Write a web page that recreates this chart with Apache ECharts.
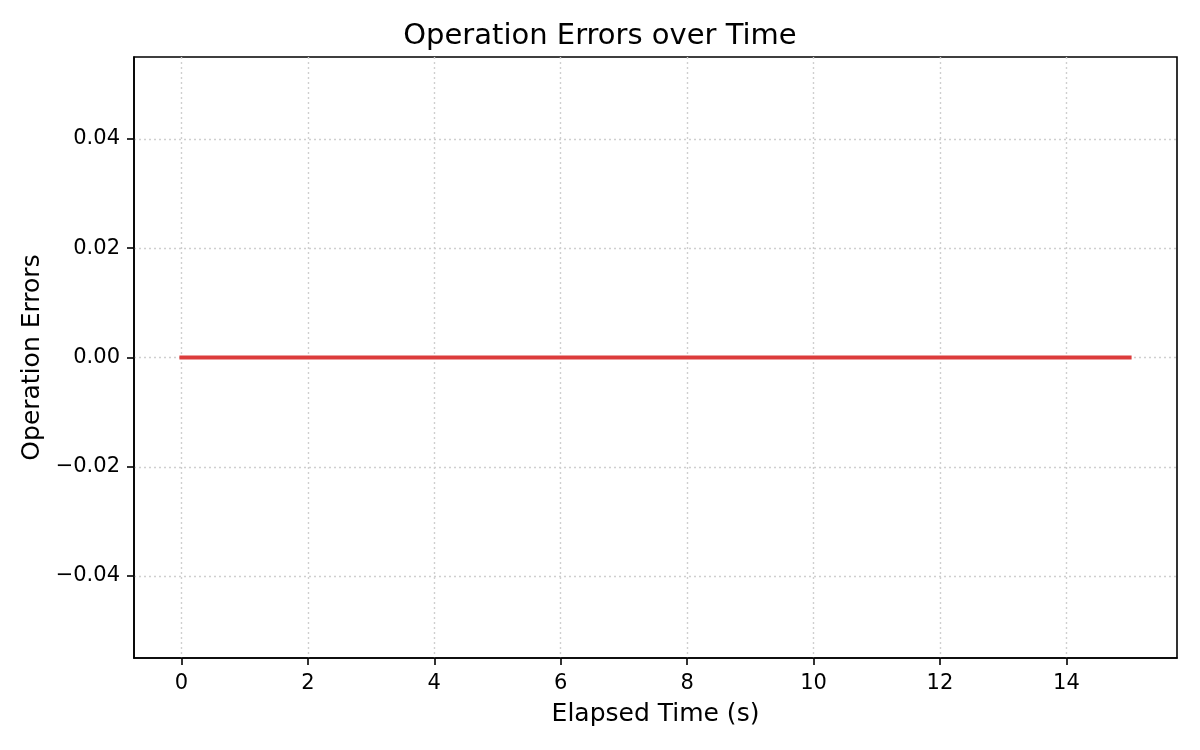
<!DOCTYPE html>
<html>
<head>
<meta charset="utf-8">
<title>Operation Errors over Time</title>
<script src="https://cdn.jsdelivr.net/npm/echarts@6/dist/echarts.min.js"></script>
<style>
  html, body { margin: 0; padding: 0; background: #fff; }
  #main { width: 1200px; height: 750px; }
</style>
</head>
<body>
<div id="main"></div>
<script>
// data
var elapsedTime = [0, 1, 2, 3, 4, 5, 6, 7, 8, 9, 10, 11, 12, 13, 14, 15];
var opErrors    = [0, 0, 0, 0, 0, 0, 0, 0, 0, 0, 0, 0, 0, 0, 0, 0];
var xTicks = [0, 2, 4, 6, 8, 10, 12, 14];
var yTicks = [-0.04, -0.02, 0, 0.02, 0.04];

var FONT = 'DejaVu Sans';

function fmtY(v) {
	var s = Math.abs(v).toFixed(2);
	return (v < -1e-9 ? '\u2212' : '') + s;
}

var mainChart = echarts.init(document.getElementById('main'));

var points = [];
for (var i = 0; i < elapsedTime.length; i++) {
	points.push([elapsedTime[i], opErrors[i]]);
}

var gridLine = { show: true, lineStyle: { color: '#cfcfcf', type: [2, 3], width: 1.4 } };

var chartOpt = {
	animation: false,
	backgroundColor: '#ffffff',
	title: {
		text: 'Operation Errors over Time',
		left: 'center',
		top: 17,
		textStyle: { fontFamily: FONT, fontSize: 29, fontWeight: 'normal', color: '#000' }
	},
	grid: { left: 134, right: 23, top: 57, bottom: 92, show: true, borderColor: '#000', borderWidth: 1.6, containLabel: false },
	xAxis: {
		type: 'value',
		min: -0.75,
		max: 15.75,
		name: 'Elapsed Time (s)',
		nameLocation: 'middle',
		nameGap: 44,
		nameTextStyle: { fontFamily: FONT, fontSize: 25, color: '#000' },
		axisLine: { show: true, onZero: false, lineStyle: { color: '#000', width: 1.6 } },
		axisTick: { show: true, length: 7, customValues: xTicks, lineStyle: { color: '#000', width: 1.6 } },
		axisLabel: { customValues: xTicks, fontFamily: FONT, fontSize: 21, color: '#000', margin: 15 },
		splitLine: gridLine
	},
	yAxis: {
		type: 'value',
		min: -0.055,
		max: 0.055,
		name: 'Operation Errors',
		nameLocation: 'middle',
		nameGap: 86,
		nameTextStyle: { fontFamily: FONT, fontSize: 25, color: '#000' },
		axisLine: { show: true, onZero: false, lineStyle: { color: '#000', width: 1.6 } },
		axisTick: { show: true, length: 7, customValues: yTicks, lineStyle: { color: '#000', width: 1.6 } },
		axisLabel: { customValues: yTicks, fontFamily: FONT, fontSize: 21, color: '#000', margin: 14, formatter: fmtY },
		splitLine: gridLine
	},
	series: [{
		name: 'Operation Errors',
		type: 'line',
		data: points,
		showSymbol: false,
		symbol: 'none',
		lineStyle: { color: '#dc3c3c', width: 4, cap: 'square' },
		itemStyle: { color: '#dc3c3c' }
	}]
};

mainChart.setOption(chartOpt);
</script>
</body>
</html>
